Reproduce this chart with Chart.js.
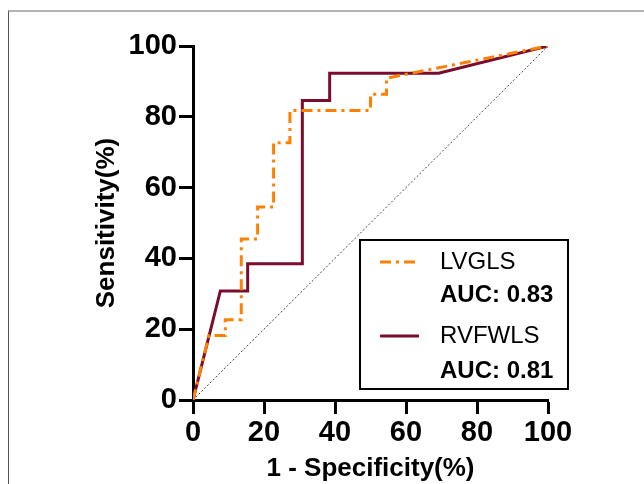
<!DOCTYPE html>
<html>
<head>
<meta charset="utf-8">
<script src="https://cdn.jsdelivr.net/npm/chart.js@4/dist/chart.umd.min.js"></script>
<style>
    html, body { margin: 0; padding: 0; background: #fff; }
    #wrap { position: relative; width: 644px; height: 484px; overflow: hidden; }
    #frame { position: absolute; left: 8px; top: 10px; width: 700px; height: 500px; border-top: 2px solid #b4b4b4; border-left: 1px solid #555; }
    #roc { position: absolute; left: 0; top: 0; }
</style>
</head>
<body>
<div id="wrap">
    <div id="frame"></div>
    <canvas id="roc" width="644" height="484"></canvas>
</div>
<script>
// ROC data (1 - specificity, sensitivity in %)
const seriesNames = ['LVGLS', 'RVFWLS'];
const aucValues = ['0.83', '0.81'];
const lvglsFpr = [0, 4.5, 9.1, 9.1, 13.6, 13.6, 18.2, 18.2, 22.7, 22.7, 27.3, 27.3, 50, 50, 54.5, 54.5, 100];
const lvglsTpr = [0, 18.2, 18.2, 22.7, 22.7, 45.5, 45.5, 54.5, 54.5, 72.7, 72.7, 81.8, 81.8, 86.4, 86.4, 90.9, 100];
const rvfwlsFpr = [0, 7.7, 15.4, 15.4, 30.8, 30.8, 38.5, 38.5, 69.2, 100];
const rvfwlsTpr = [0, 30.8, 30.8, 38.5, 38.5, 84.6, 84.6, 92.3, 92.3, 100];
const chanceLine = [0, 100];
const tickValues = [0, 20, 40, 60, 80, 100];

const FONT = "'Liberation Sans', Arial, Helvetica, sans-serif";
const toPoints = (xs, ys) => xs.map((x, i) => ({ x: x, y: ys[i] }));

// Draws the boxed legend in the lower right of the plot.
const legendBox = {
    id: 'legendBox',
    afterDraw(chart) {
        const ctx = chart.ctx;
        const box = { left: 360, top: 240, right: 568, bottom: 389 };
        const nameRows = [262, 336];
        const aucRows = [295, 371];
        ctx.save();
        ctx.strokeStyle = '#000';
        ctx.lineWidth = 2;
        ctx.strokeRect(box.left, box.top, box.right - box.left, box.bottom - box.top);
        seriesNames.forEach((name, i) => {
            const ds = chart.data.datasets[i];
            const y = nameRows[i];
            ctx.beginPath();
            ctx.strokeStyle = ds.borderColor;
            ctx.lineWidth = ds.borderWidth;
            ctx.setLineDash(ds.borderDash || []);
            ctx.moveTo(380, y);
            ctx.lineTo(419, y);
            ctx.stroke();
            ctx.setLineDash([]);
            ctx.fillStyle = '#000';
            ctx.textAlign = 'left';
            ctx.textBaseline = 'middle';
            ctx.font = `24px ${FONT}`;
            ctx.fillText(name, 440, y);
            ctx.font = `bold 24px ${FONT}`;
            ctx.fillText(`AUC: ${aucValues[i]}`, 440, aucRows[i]);
        });
        ctx.restore();
    }
};

document.addEventListener('DOMContentLoaded', () => {
    const ctx = document.getElementById('roc').getContext('2d');

    const axisCommon = {
        type: 'linear',
        min: 0,
        max: 100,
        border: { display: true, color: '#000', width: 3 },
        grid: { drawOnChartArea: false, drawTicks: true, tickLength: 14, tickWidth: 3, tickColor: '#000' },
        ticks: {
            stepSize: 20,
            color: '#000',
            padding: 2,
            font: { family: FONT, size: 29, weight: 'bold' },
            callback: (v) => tickValues.includes(v) ? String(v) : ''
        }
    };

    new Chart(ctx, {
        type: 'line',
        data: {
            datasets: [
                {
                    label: seriesNames[0],
                    data: toPoints(lvglsFpr, lvglsTpr),
                    borderColor: '#ff8000',
                    borderWidth: 3,
                    borderDash: [11, 5, 3, 5],
                    pointRadius: 0,
                    tension: 0,
                    fill: false
                },
                {
                    label: seriesNames[1],
                    data: toPoints(rvfwlsFpr, rvfwlsTpr),
                    borderColor: '#7a0c2e',
                    borderWidth: 3,
                    pointRadius: 0,
                    tension: 0,
                    fill: false
                },
                {
                    label: 'chance',
                    data: toPoints(chanceLine, chanceLine),
                    borderColor: '#444',
                    borderWidth: 1,
                    borderDash: [2, 2],
                    pointRadius: 0,
                    tension: 0,
                    fill: false
                }
            ]
        },
        options: {
            responsive: false,
            animation: false,
            layout: { padding: { left: 91, top: 46, right: 96, bottom: 0 } },
            plugins: { legend: { display: false }, tooltip: { enabled: false } },
            scales: {
                x: {
                    ...axisCommon,
                    afterFit: (scale) => { scale.height = 84; },
                    title: { display: true, text: '1 - Specificity(%)', color: '#000', padding: 0, font: { family: FONT, size: 26, weight: 'bold' } }
                },
                y: {
                    ...axisCommon,
                    afterFit: (scale) => { scale.width = 102; },
                    title: { display: true, text: 'Sensitivity(%)', color: '#000', padding: 0, font: { family: FONT, size: 26, weight: 'bold' } }
                }
            }
        },
        plugins: [legendBox]
    });
});
</script>
</body>
</html>
